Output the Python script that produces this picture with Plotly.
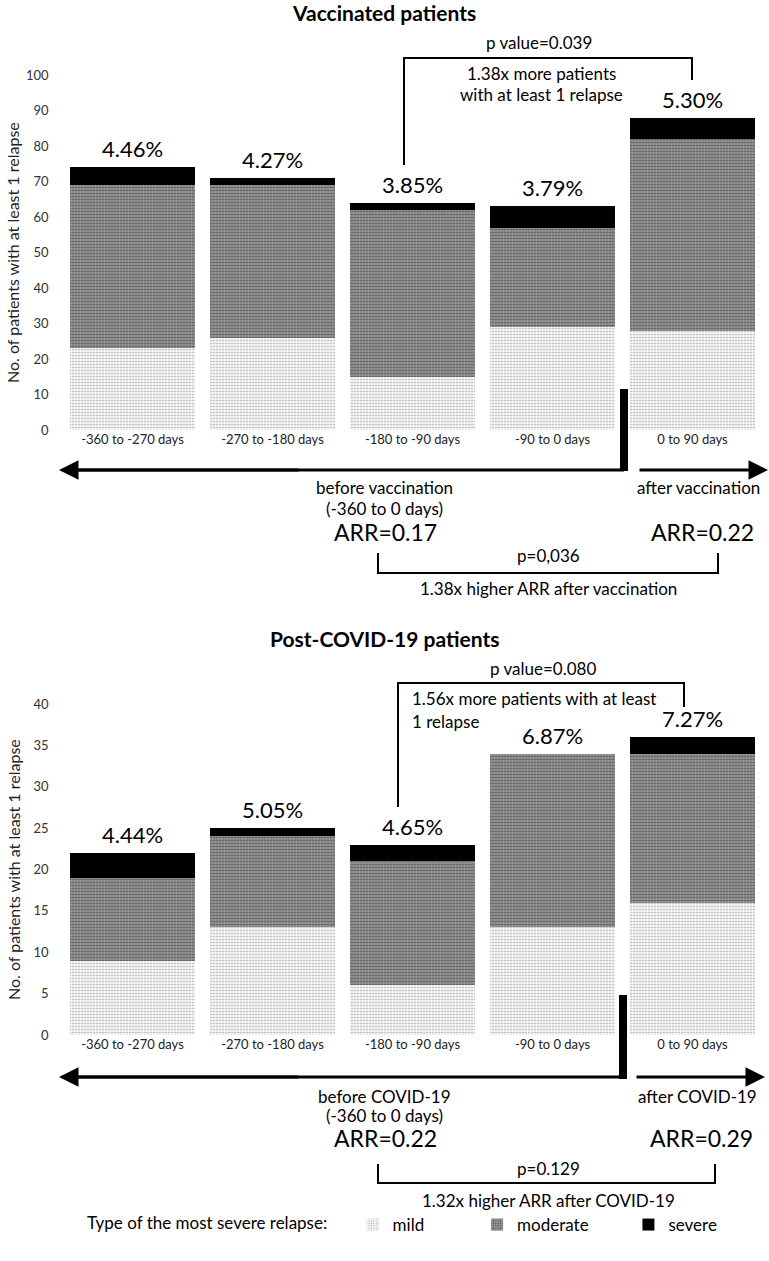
import plotly.graph_objects as go

W, H = 769, 1261
FONT = "Lato"

categories = ["-360 to -270 days", "-270 to -180 days", "-180 to -90 days", "-90 to 0 days", "0 to 90 days"]

# Vaccinated patients
vac_mild = [23, 26, 15, 29, 28]
vac_moderate = [46, 43, 47, 28, 54]
vac_severe = [5, 2, 2, 6, 6]
vac_pct = ["4.46%", "4.27%", "3.85%", "3.79%", "5.30%"]

# Post-COVID-19 patients
cov_mild = [9, 13, 6, 13, 16]
cov_moderate = [10, 11, 15, 21, 18]
cov_severe = [3, 1, 2, 0, 2]
cov_pct = ["4.44%", "5.05%", "4.65%", "6.87%", "7.27%"]

vac_ticks = [0, 10, 20, 30, 40, 50, 60, 70, 80, 90, 100]
cov_ticks = [0, 5, 10, 15, 20, 25, 30, 35, 40]

legend_names = ["mild", "moderate", "severe"]


def px(x):
    return x / W


def py(y):
    return 1 - y / H


fig = go.Figure()

styles = {
    "mild": dict(color="white", pattern=dict(shape=".", fgcolor="#555555", bgcolor="#ffffff", size=3, solidity=0.3)),
    "moderate": dict(color="#888888", pattern=dict(shape=".", fgcolor="#111111", bgcolor="#aaaaaa", size=3, solidity=0.5)),
    "severe": dict(color="black"),
}
pad = {"mild": 11, "moderate": 8, "severe": 0}

for xa, ya, series, show in [("x", "y", (vac_mild, vac_moderate, vac_severe), True),
                             ("x2", "y2", (cov_mild, cov_moderate, cov_severe), False)]:
    for name, vals in zip(legend_names, series):
        fig.add_trace(go.Bar(
            x=categories, y=vals, name=name + "\u00a0" * pad[name], xaxis=xa, yaxis=ya,
            marker=dict(**styles[name], line=dict(width=0)),
            legendgroup=name, showlegend=show, hoverinfo="skip",
        ))

annotations = []
# percentage labels above bars
for xr, yr, mild, mod, sev, pct in [("x", "y", vac_mild, vac_moderate, vac_severe, vac_pct),
                                     ("x2", "y2", cov_mild, cov_moderate, cov_severe, cov_pct)]:
    for c, a, b, s, p in zip(categories, mild, mod, sev, pct):
        annotations.append(dict(x=c, y=a + b + s, xref=xr, yref=yr, text=p, showarrow=False,
                                xanchor="center", yanchor="bottom", yshift=3,
                                font=dict(family=FONT, size=22, color="black")))


def txt(x, y, s, size=17, bold=False, xanchor="center"):
    annotations.append(dict(x=px(x), y=py(y), xref="paper", yref="paper", text=(f"<b>{s}</b>" if bold else s),
                            showarrow=False, xanchor=xanchor, yanchor="middle",
                            font=dict(family=FONT, size=size, color="black")))


def arrow(x_tip, x_tail, y):
    annotations.append(dict(x=px(x_tip), y=py(y), xref="paper", yref="paper", ax=x_tail - x_tip, ay=0,
                            showarrow=True, arrowhead=2, arrowsize=1.3, arrowwidth=3, arrowcolor="black", text=""))


shapes = []


def line(x0, y0, x1, y1, w=2):
    shapes.append(dict(type="line", xref="paper", yref="paper", x0=px(x0), y0=py(y0), x1=px(x1), y1=py(y1),
                       line=dict(color="black", width=w)))


def rect(x0, y0, x1, y1):
    shapes.append(dict(type="rect", xref="paper", yref="paper", x0=px(x0), y0=py(y0), x1=px(x1), y1=py(y1),
                       fillcolor="black", line=dict(width=0)))


# ---- Top panel ----
txt(384, 13, "Vaccinated patients", size=21, bold=True)
txt(539, 43, "p value=0.039")
line(404, 58, 692, 58)
line(404, 57, 404, 165)
line(692, 57, 692, 80)
txt(541, 73, "1.38x more patients")
txt(541, 95, "with at least 1 relapse")
rect(620, 389, 628, 471)
line(62, 470, 624, 470, w=3)
arrow(59, 300, 470)
arrow(768, 638, 470)
txt(384, 488, "before vaccination")
txt(384, 508, "(-360 to 0 days)")
txt(385, 532, "ARR=0.17", size=23)
txt(698, 488, "after vaccination")
txt(702, 532, "ARR=0.22", size=23)
txt(548, 555, "p=0,036")
line(378, 553, 378, 573)
line(718, 553, 718, 573)
line(377, 573, 719, 573)
txt(548, 588, "1.38x higher ARR after vaccination")

# ---- Bottom panel ----
txt(384, 638, "Post-COVID-19 patients", size=21, bold=True)
txt(543, 668, "p value=0.080")
line(398, 683, 684, 683)
line(398, 682, 398, 807)
line(684, 682, 684, 707)
txt(410, 698, "1.56x more patients with at least", xanchor="left")
txt(410, 721, "1 relapse", xanchor="left")
rect(619, 995, 627, 1079)
line(62, 1077, 623, 1077, w=3)
arrow(59, 300, 1077)
arrow(765, 635, 1077)
txt(384, 1096, "before COVID-19")
txt(384, 1115, "(-360 to 0 days)")
txt(385, 1138, "ARR=0.22", size=23)
txt(697, 1096, "after COVID-19")
txt(701, 1138, "ARR=0.29", size=23)
txt(548, 1168, "p=0.129")
line(378, 1164, 378, 1183)
line(715, 1164, 715, 1183)
line(377, 1183, 716, 1183)
txt(548, 1200, "1.32x higher ARR after COVID-19")

# y-axis titles
for yc in (253, 870):
    annotations.append(dict(x=px(13), y=py(yc), xref="paper", yref="paper", text="No. of patients with at least 1 relapse",
                            textangle=-90, showarrow=False, xanchor="center", yanchor="middle",
                            font=dict(family=FONT, size=16, color="#222222")))

xdom = [px(62.5), px(762.5)]
axis_common = dict(showgrid=False, zeroline=False, showline=False, ticks="")
fig.update_layout(
    width=W, height=H, margin=dict(l=0, r=0, t=0, b=0, autoexpand=False),
    paper_bgcolor="white", plot_bgcolor="white",
    barmode="stack", bargap=0.107,
    font=dict(family=FONT, color="black"),
    xaxis=dict(domain=xdom, anchor="y", categoryorder="array", categoryarray=categories,
               tickfont=dict(family=FONT, size=13, color="#222222"), automargin=False, **axis_common),
    yaxis=dict(domain=[py(430), py(75)], anchor="x", range=[0, 100], tickvals=vac_ticks,
               tickfont=dict(family=FONT, size=13, color="#333333"), ticklabelstandoff=13, automargin=False, **axis_common),
    xaxis2=dict(domain=xdom, anchor="y2", categoryorder="array", categoryarray=categories,
                tickfont=dict(family=FONT, size=13, color="#222222"), automargin=False, **axis_common),
    yaxis2=dict(domain=[py(1035), py(704)], anchor="x2", range=[0, 40], tickvals=cov_ticks,
                tickfont=dict(family=FONT, size=13, color="#333333"), ticklabelstandoff=13, automargin=False, **axis_common),
    legend=dict(orientation="h", x=px(85), y=py(1225), xanchor="left", yanchor="middle",
                title=dict(text="Type of the most severe relapse:\u00a0\u00a0\u00a0\u00a0", side="left",
                           font=dict(family=FONT, size=17)),
                font=dict(family=FONT, size=17), itemwidth=30, traceorder="normal"),
    annotations=annotations, shapes=shapes,
)

fig.write_html("out.html", post_script="document.body.style.margin='0';", config={"displayModeBar": False})
